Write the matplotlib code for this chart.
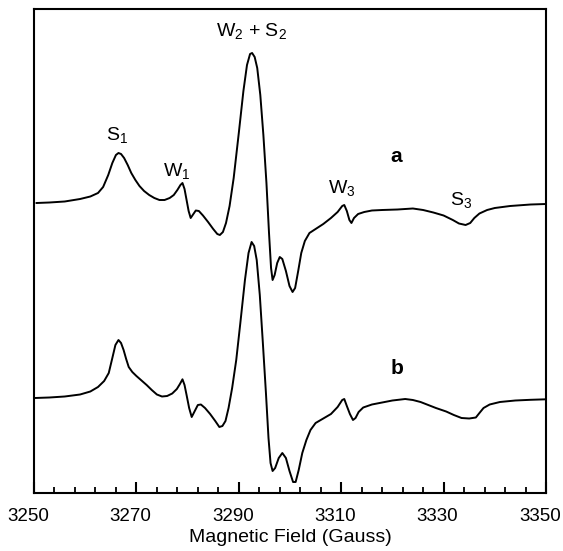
import matplotlib
matplotlib.use("Agg")
import matplotlib.pyplot as plt
import matplotlib.transforms as mtransforms
import numpy as np

plt.rcParams['font.family'] = ['Liberation Sans', 'DejaVu Sans']
plt.rcParams['mathtext.fontset'] = 'custom'
plt.rcParams['mathtext.rm'] = 'Liberation Sans'
plt.rcParams['mathtext.it'] = 'Liberation Sans'

# Trace a (field in Gauss, intensity in arbitrary units)
field_a = [3250.5, 3253, 3256, 3259, 3261, 3262.5, 3263.5, 3264.5, 3265.3, 3266, 3266.5,
           3267, 3267.6, 3268.3, 3269, 3269.8, 3270.6, 3271.5, 3272.5, 3273.5, 3274.5,
           3275.5, 3276.5, 3277.3, 3278, 3278.6, 3279, 3279.4, 3279.8, 3280.2, 3280.6,
           3281, 3281.6, 3282.2, 3283, 3284, 3285, 3285.8, 3286.3, 3286.9, 3287.5,
           3288.2, 3289, 3290, 3290.9, 3291.6, 3292.2, 3292.6, 3293.1, 3293.6, 3294.2,
           3294.8, 3295.4, 3295.9, 3296.3, 3296.6, 3297, 3297.5, 3298, 3298.5, 3299.2,
           3299.9, 3300.5, 3301, 3301.6, 3302.2, 3302.9, 3303.8, 3305, 3306.5, 3308,
           3309.3, 3310.2, 3310.6, 3311.1, 3311.6, 3312, 3312.5, 3313.3, 3314.5, 3316,
           3318, 3321, 3324, 3326, 3328, 3330, 3331.8, 3333, 3334.3, 3335.2, 3336,
           3337, 3338.5, 3340, 3343, 3347, 3350]
int_a = [0, 0.5, 1.5, 4, 6.5, 10, 16, 28, 40, 48, 50,
         49, 45, 38, 30, 23, 17, 12, 8, 5, 3,
         3, 5, 8, 13, 18, 20, 14, 3, -8, -15,
         -12, -7.5, -8, -12.5, -19, -26, -31, -32, -29, -20,
         -3, 25, 70, 112, 138, 149, 150, 146, 135, 108,
         68, 20, -30, -65, -77, -72, -60, -54, -56, -68,
         -83, -89, -85, -68, -50, -38, -30, -26, -21, -15,
         -9, -3, -2, -8, -17, -20, -15, -11, -9, -7.5,
         -7, -6.5, -5.5, -7, -9.5, -12.5, -17, -20.5, -22, -20, -15,
         -10.5, -7, -5, -3, -1.5, -1]

# Trace b
field_b = [3250.2, 3253, 3256, 3259, 3261, 3262.5, 3263.7, 3264.6, 3265.3, 3265.9, 3266.5,
           3267, 3267.5, 3268, 3268.5, 3269.2, 3270, 3271, 3272, 3273, 3274,
           3275, 3276, 3277, 3277.9, 3278.5, 3279, 3279.4, 3279.8, 3280.3, 3280.8,
           3281.3, 3282, 3282.6, 3283.4, 3284.4, 3285.4, 3286.2, 3286.8, 3287.4, 3288,
           3288.7, 3289.5, 3290.3, 3291.2, 3291.9, 3292.5, 3293, 3293.5, 3294.1, 3294.7,
           3295.3, 3295.8, 3296.2, 3296.6, 3297.1, 3297.8, 3298.5, 3299.2, 3299.9, 3300.6,
           3301.1, 3301.7, 3302.4, 3303.2, 3304, 3305, 3306.5, 3308, 3309.3, 3310.2,
           3310.6, 3311.1, 3311.7, 3312.3, 3312.8, 3313.4, 3314.3, 3316, 3318, 3320,
           3322.5, 3324, 3325.5, 3327, 3328.5, 3330.5, 3332, 3333.5, 3335, 3336.3,
           3337, 3337.8, 3339, 3341, 3344, 3347, 3350]
int_b = [0, 0.5, 1.5, 3.5, 6.5, 11, 17, 25, 40, 53, 58,
         55, 48, 39, 31, 26, 22, 17.5, 13, 8, 3.5,
         1.5, 2, 4.5, 9, 14, 18.7, 13, 3, -10, -19,
         -14, -7, -6.5, -10, -16, -23, -29, -28, -23, -10,
         10, 38, 75, 118, 145, 156, 152, 138, 103, 55,
         5, -40, -65, -73, -70, -60, -55, -60, -73, -84,
         -84, -72, -55, -42, -32, -25, -20.5, -16, -9, -2,
         -1, -8, -16, -22, -20, -14, -9.5, -6.5, -4.5, -2.5,
         -1, -2, -4, -7, -10, -13.5, -17, -20, -20.5, -19.5,
         -15, -10, -6.5, -4, -2.5, -1.8, -1.3]

offset_a = 290
offset_b = 95

fig = plt.figure(figsize=(5.63, 5.51), dpi=100)
ax = fig.add_axes([34/563, 58/551, 512/563, 484/551])

ax.plot(field_a, np.array(int_a) + offset_a, color='black', lw=1.4,
        solid_joinstyle='round')
ax.plot(field_b, np.array(int_b) + offset_b, color='black', lw=1.4,
        solid_joinstyle='round')

ax.set_xlim(3250, 3350)
ax.set_ylim(0, 484)
ax.set_yticks([])
ax.set_xticks(np.arange(3250, 3351, 20))
ax.set_xticks(np.arange(3250, 3351, 4), minor=True)
ax.tick_params(axis='x', which='major', direction='in', length=8, width=1.5,
               labelsize=13.5, pad=11)
ax.tick_params(axis='x', which='minor', direction='in', length=4.5, width=1.3)
for s in ax.spines.values():
    s.set_linewidth(1.5)
ax.set_xlabel('Magnetic Field (Gauss)', fontsize=14, labelpad=3)

# tick labels sit slightly left of their ticks in the reference
shift = mtransforms.ScaledTranslation(-6/100, 0, fig.dpi_scale_trans)
for lab in ax.get_xticklabels():
    lab.set_transform(lab.get_transform() + shift)

def px(x, y):
    return 3250 + (x - 34) / 5.12, 493 - y

fs = 14
labels = [(117, 135, r'S$_\mathregular{1}$'), (177, 171, r'W$_\mathregular{1}$'),
          (251, 31, r'W$_\mathregular{2}$ + S$_\mathregular{2}$'),
          (342, 188, r'W$_\mathregular{3}$'), (461, 200, r'S$_\mathregular{3}$')]
for x, y, t in labels:
    fx, fy = px(x, y)
    ax.text(fx, fy, t, fontsize=fs, ha='center', va='center')
for x, y, t in [(396, 157, 'a'), (397, 368, 'b')]:
    fx, fy = px(x, y)
    ax.text(fx, fy, t, fontsize=15, fontweight='bold', ha='center', va='center')

fig.savefig('out.png', dpi=100)
